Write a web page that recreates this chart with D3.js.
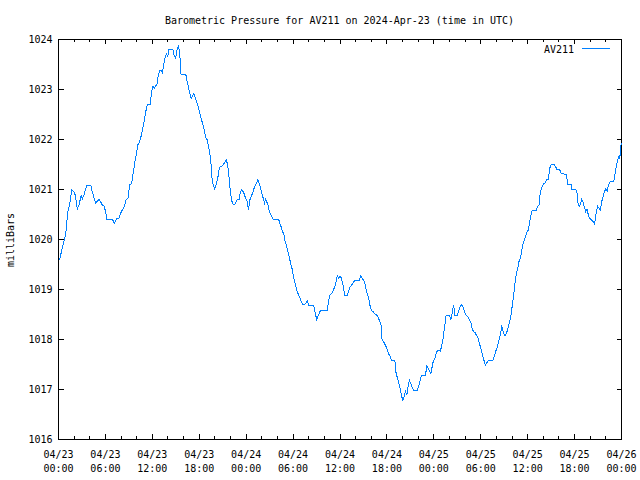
<!DOCTYPE html>
<html><head><meta charset="utf-8">
<script src="https://cdn.jsdelivr.net/npm/d3@7"></script>
<style>body{margin:0;background:#fff} svg{display:block}</style>
</head><body>
<script>
const chartTitle = "Barometric Pressure for AV211 on 2024-Apr-23 (time in UTC)";
const seriesName = "AV211";
const yAxisLabel = "milliBars";
const startUTC = Date.UTC(2024, 3, 23, 0, 0);
const spanHours = 72;
const yTicks = [1016, 1017, 1018, 1019, 1020, 1021, 1022, 1023, 1024];
const xMajorHours = [0, 6, 12, 18, 24, 30, 36, 42, 48, 54, 60, 66, 72];
const xMinorHours = [2, 4, 8, 10, 14, 16, 20, 22, 26, 28, 32, 34, 38, 40, 44, 46, 50, 52, 56, 58, 62, 64, 68, 70];

// hours since 2024-04-23 00:00 UTC
const hours = [
0.13,0.38,0.64,0.90,1.02,1.19,1.37,1.54,1.70,1.96,2.18,2.31,2.40,2.60,2.78,2.91,3.04,3.24,3.46,3.63,
4.14,4.32,4.52,4.74,4.87,5.16,5.38,5.60,5.85,6.02,6.19,6.88,7.14,7.39,7.73,7.94,8.16,8.42,8.62,8.88,
9.10,9.35,9.57,9.77,9.95,10.12,10.29,10.54,10.72,10.93,11.15,11.36,11.75,11.88,12.08,12.30,12.43,12.59,12.77,12.94,
13.11,13.29,13.45,13.62,13.80,13.96,14.13,14.64,14.82,14.99,15.16,15.34,15.50,15.67,16.27,16.44,16.62,16.78,16.95,17.13,
17.30,17.46,17.64,17.90,18.15,18.41,18.67,18.83,19.00,19.18,19.35,19.51,19.60,19.77,19.95,20.11,20.37,20.54,20.72,20.88,
21.14,21.31,21.48,21.65,21.82,22.00,22.16,22.33,22.59,22.84,23.10,23.28,23.44,23.70,23.92,24.12,24.30,24.47,24.64,24.82,
24.98,25.15,25.33,25.49,25.66,25.84,26.01,26.17,26.35,26.48,26.61,26.78,26.87,27.03,27.20,27.45,28.15,28.31,28.48,28.66,
28.83,28.99,29.17,29.34,29.50,29.68,29.85,30.02,30.20,30.36,30.53,30.71,30.88,31.04,31.22,31.39,31.64,31.81,31.99,32.50,
32.67,32.84,33.01,33.18,33.35,33.53,34.37,34.55,34.72,34.97,35.14,35.32,35.49,35.65,35.83,36.00,36.17,36.35,36.51,36.60,
36.94,37.12,37.28,37.45,37.67,37.88,38.47,38.65,38.82,38.98,39.16,39.33,39.50,39.68,39.84,40.01,40.27,40.45,40.78,40.96,
41.29,41.38,41.55,41.73,41.89,42.06,42.24,42.41,42.57,43.01,43.17,43.34,43.52,43.69,43.85,44.03,44.20,44.37,44.55,44.71,
44.88,45.06,45.22,45.39,45.90,46.08,46.25,46.42,46.93,47.11,47.27,47.44,47.62,47.79,47.95,48.13,48.30,48.47,48.81,48.98,
49.16,49.32,49.49,49.58,50.00,50.18,50.35,50.52,50.70,51.03,51.21,51.37,51.54,51.72,51.89,52.05,52.23,52.40,52.57,52.74,
52.91,53.08,53.26,53.42,53.59,53.77,53.94,54.10,54.28,54.45,54.61,54.79,54.96,55.56,55.73,55.90,56.08,56.24,56.41,56.59,
56.67,56.85,57.01,57.18,57.36,57.52,57.69,57.87,58.04,58.20,58.38,58.55,58.72,58.89,59.06,59.23,59.41,59.58,59.74,59.92,
60.09,60.25,60.43,60.60,61.11,61.28,61.46,61.54,61.71,61.88,62.05,62.23,62.39,62.65,62.81,62.99,63.42,63.58,63.76,64.09,
64.27,64.95,65.12,65.55,65.63,66.14,66.32,66.40,66.58,66.74,66.91,67.09,67.26,67.42,67.60,67.76,67.93,68.19,68.37,68.54,
68.63,68.79,68.96,69.14,69.31,69.47,69.65,69.82,69.99,70.17,70.33,70.59,71.01,71.19,71.36,71.53,71.70,71.78,71.86,71.95,
72.00
];
const pressure = [
1019.59,1019.76,1019.92,1020.09,1020.26,1020.56,1020.66,1020.82,1020.99,1020.95,1020.88,1020.70,1020.61,1020.68,1020.80,1020.89,1020.81,1020.88,1021.01,1021.09,
1021.09,1020.95,1020.85,1020.72,1020.75,1020.80,1020.76,1020.69,1020.67,1020.55,1020.41,1020.41,1020.32,1020.41,1020.42,1020.52,1020.59,1020.66,1020.79,1020.82,
1021.09,1021.12,1021.35,1021.55,1021.69,1021.89,1021.92,1022.05,1022.19,1022.35,1022.55,1022.70,1022.70,1022.93,1023.06,1023.03,1023.08,1023.09,1023.30,1023.37,
1023.39,1023.33,1023.50,1023.63,1023.71,1023.66,1023.80,1023.80,1023.66,1023.63,1023.80,1023.88,1023.73,1023.31,1023.31,1023.17,1023.05,1022.93,1022.82,1022.87,
1022.92,1022.85,1022.77,1022.64,1022.47,1022.33,1022.17,1022.03,1022.00,1021.87,1021.73,1021.50,1021.26,1021.10,1021.02,1021.07,1021.23,1021.40,1021.47,1021.47,
1021.51,1021.56,1021.59,1021.47,1021.23,1020.93,1020.77,1020.71,1020.71,1020.80,1020.80,1020.96,1021.00,1020.93,1020.83,1020.76,1020.60,1020.79,1020.86,1020.93,
1021.01,1021.07,1021.13,1021.20,1021.13,1021.03,1020.91,1020.83,1020.73,1020.80,1020.76,1020.70,1020.63,1020.53,1020.48,1020.41,1020.41,1020.31,1020.25,1020.16,
1020.09,1019.96,1019.86,1019.76,1019.65,1019.53,1019.43,1019.29,1019.16,1019.05,1018.96,1018.89,1018.83,1018.76,1018.71,1018.69,1018.73,1018.78,1018.69,1018.69,
1018.65,1018.53,1018.40,1018.47,1018.53,1018.59,1018.59,1018.79,1018.89,1018.92,1018.99,1019.05,1019.15,1019.27,1019.23,1019.27,1019.23,1019.12,1018.98,1018.89,
1018.89,1018.98,1019.05,1019.08,1019.13,1019.18,1019.18,1019.27,1019.23,1019.19,1019.15,1019.01,1018.91,1018.81,1018.68,1018.58,1018.55,1018.51,1018.48,1018.41,
1018.28,1017.99,1017.96,1017.91,1017.86,1017.78,1017.71,1017.66,1017.59,1017.59,1017.33,1017.23,1017.12,1017.03,1016.88,1016.79,1016.86,1016.96,1016.89,1017.06,
1017.18,1017.12,1017.05,1016.99,1016.99,1017.07,1017.18,1017.29,1017.29,1017.47,1017.43,1017.38,1017.31,1017.46,1017.58,1017.61,1017.73,1017.78,1017.77,1017.85,
1017.99,1018.19,1018.39,1018.49,1018.49,1018.39,1018.53,1018.69,1018.49,1018.49,1018.59,1018.66,1018.69,1018.66,1018.58,1018.51,1018.47,1018.45,1018.39,1018.34,
1018.21,1018.16,1018.14,1018.09,1018.06,1017.96,1017.86,1017.76,1017.66,1017.56,1017.49,1017.54,1017.58,1017.58,1017.66,1017.76,1017.83,1017.93,1018.03,1018.16,
1018.29,1018.16,1018.09,1018.09,1018.16,1018.25,1018.36,1018.49,1018.69,1018.89,1019.12,1019.32,1019.42,1019.56,1019.62,1019.76,1019.92,1019.99,1020.06,1020.16,
1020.19,1020.36,1020.49,1020.59,1020.59,1020.66,1020.69,1020.86,1021.00,1021.07,1021.12,1021.13,1021.19,1021.20,1021.42,1021.50,1021.50,1021.45,1021.40,1021.40,
1021.32,1021.30,1021.10,1021.10,1021.00,1021.00,1020.93,1020.75,1020.66,1020.70,1020.80,1020.75,1020.64,1020.56,1020.60,1020.49,1020.42,1020.39,1020.36,1020.31,
1020.39,1020.56,1020.66,1020.62,1020.59,1020.76,1020.86,1020.96,1021.01,1020.97,1021.09,1021.17,1021.17,1021.32,1021.49,1021.59,1021.68,1021.62,1021.76,1021.90,
1021.92
];

const W = 640, H = 480;
const FONT = "'DejaVu Sans Mono', 'Liberation Mono', monospace";
const LINE_COLOR = "#0080ff";
const toDate = h => new Date(startUTC + h * 3600e3);
const data = hours.map((h, i) => ({ t: toDate(h), v: pressure[i] }));

const svg = d3.select("body").append("svg").attr("width", W).attr("height", H)
  .style("font-family", FONT);
svg.append("rect").attr("width", W).attr("height", H).attr("fill", "#fff");

const x = d3.scaleUtc().domain([toDate(0), toDate(spanHours)]).range([58, 621]);
const y = d3.scaleLinear().domain([1016, 1024]).range([439, 39]);

const fmtDay = d3.utcFormat("%m/%d");
const fmtTime = d3.utcFormat("%H:%M");
const majorDates = xMajorHours.map(toDate);
const minorDates = xMinorHours.map(toDate);

function styleAxis(g) {
  g.select(".domain").remove();
  g.attr("font-family", FONT).attr("font-size", 10).attr("color", "#000");
  g.selectAll("line").attr("shape-rendering", "crispEdges");
  g.selectAll("text").attr("fill", "#000");
}

// bottom axis (major with labels)
const gb = svg.append("g").attr("transform", "translate(0,439)")
  .call(d3.axisBottom(x).tickValues(majorDates).tickSize(-5).tickFormat(fmtDay))
  .call(styleAxis);
gb.selectAll(".tick text").each(function(d) {
  const t = d3.select(this);
  t.text(null).attr("y", null).attr("dy", null);
  t.append("tspan").attr("x", 0).attr("y", 19).text(fmtDay(d));
  t.append("tspan").attr("x", 0).attr("y", 33).text(fmtTime(d));
});
svg.append("g").attr("transform", "translate(0,439)")
  .call(d3.axisBottom(x).tickValues(minorDates).tickSize(-3).tickFormat(""))
  .call(styleAxis);
// top axis (mirror)
svg.append("g").attr("transform", "translate(0,39)")
  .call(d3.axisTop(x).tickValues(majorDates).tickSize(-5).tickFormat(""))
  .call(styleAxis);
svg.append("g").attr("transform", "translate(0,39)")
  .call(d3.axisTop(x).tickValues(minorDates).tickSize(-3).tickFormat(""))
  .call(styleAxis);
// left axis
svg.append("g").attr("transform", "translate(58.5,0)")
  .call(d3.axisLeft(y).tickValues(yTicks).tickSize(-5).tickPadding(6).tickFormat(d3.format("d")))
  .call(styleAxis);
// right axis (mirror)
svg.append("g").attr("transform", "translate(621.5,0)")
  .call(d3.axisRight(y).tickValues(yTicks).tickSize(-5).tickFormat(""))
  .call(styleAxis);

// frame
svg.append("rect").attr("x", 58.5).attr("y", 39.5).attr("width", 563).attr("height", 400)
  .attr("fill", "none").attr("stroke", "#000").attr("stroke-width", 1)
  .attr("shape-rendering", "crispEdges");

// series line
const line = d3.line().x(d => x(d.t)).y(d => y(d.v));
svg.append("path").datum(data)
  .attr("transform", "translate(0.5,0.5)")
  .attr("d", line).attr("fill", "none")
  .attr("stroke", LINE_COLOR).attr("stroke-width", 1)
  .attr("shape-rendering", "crispEdges");

// title
svg.append("text").attr("x", 339.5).attr("y", 24).attr("text-anchor", "middle")
  .attr("font-size", 10).attr("fill", "#000").text(chartTitle);

// y label
svg.append("text").attr("transform", "translate(14,240) rotate(-90)")
  .attr("text-anchor", "middle").attr("font-size", 10).attr("fill", "#000").text(yAxisLabel);

// legend
svg.append("text").attr("x", 574).attr("y", 53).attr("text-anchor", "end")
  .attr("font-size", 10).attr("fill", "#000").text(seriesName);
svg.append("line").attr("x1", 582).attr("x2", 610).attr("y1", 48.5).attr("y2", 48.5)
  .attr("stroke", LINE_COLOR).attr("stroke-width", 1).attr("shape-rendering", "crispEdges");
</script>
</body></html>
